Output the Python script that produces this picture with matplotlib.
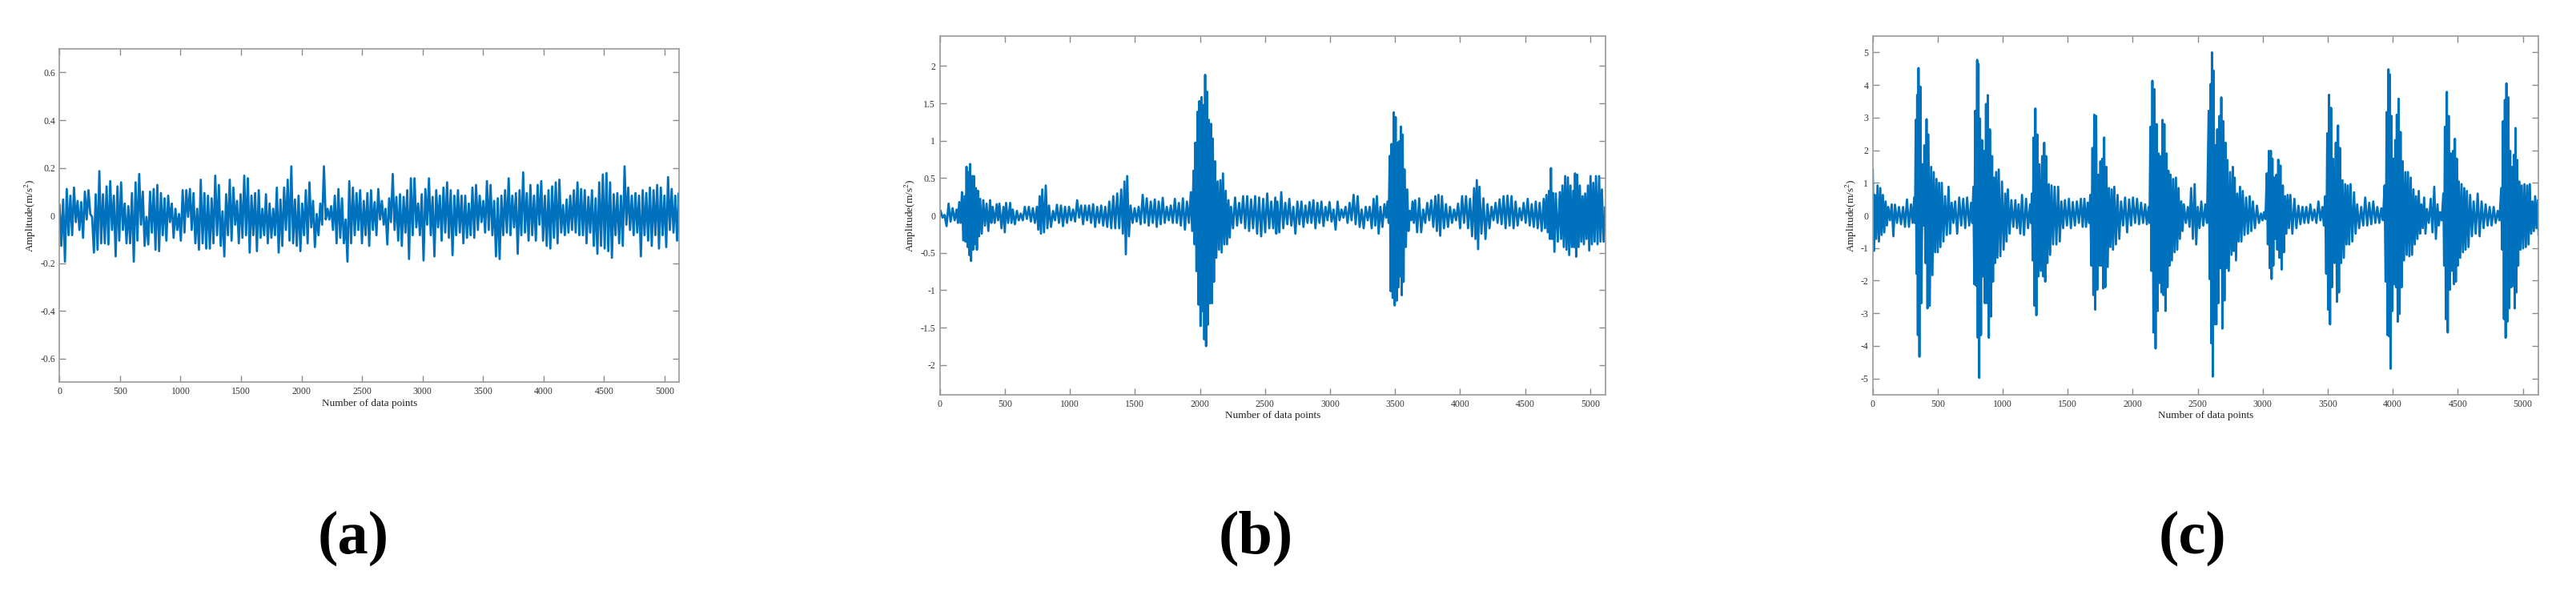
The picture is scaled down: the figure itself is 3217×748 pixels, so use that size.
import numpy as np
import matplotlib
matplotlib.use("Agg")
from matplotlib import pyplot as plt

plt.rcParams["font.family"] = ["Liberation Serif", "DejaVu Serif"]
plt.rcParams["mathtext.fontset"] = "stix"
plt.rcParams["axes.unicode_minus"] = False

# (a) upper / lower extremes, one pair per ~30 samples, read left to right
a_hi = [0.044, 0.067, 0.111, 0.083, 0.117, 0.061, 0.056, 0.1, 0.106, -0.006,
        0.089, 0.186, 0.089, 0.122, 0.144, 0.083, 0.122, 0.139, 0.05, 0.039,
        0.094, 0.139, 0.174, 0.1, -0.006, 0.1, 0.111, 0.128, 0.094, 0.072,
        0.083, 0.05, 0.028, 0.006, 0.106, 0.106, 0.111, 0.094, 0.028, 0.15,
        0.094, 0.083, 0.072, 0.167, 0.128, 0.017, 0.089, 0.15, 0.117, 0.061,
        0.089, 0.167, 0.156, 0.083, 0.094, 0.106, 0.028, 0.089, 0.05, 0.028,
        0.117, 0.067, 0.117, 0.15, 0.206, 0.067, 0.083, 0.05, 0.106, 0.139,
        0.061, 0.006, 0.05, 0.206, 0.028, 0.039, 0.083, 0.111, 0.072, -0.017,
        0.144, 0.117, 0.094, 0.106, 0.061,
        0.094, 0.106, 0.056, 0.111, 0.061, 0.028, 0.072, 0.174, 0.078, 0.089,
        0.078, 0.106, 0.156, 0.156, 0.05, 0.089, 0.111, 0.156, 0.078, 0.106,
        0.083, 0.117, 0.139, 0.106, 0.083, 0.106, 0.083, 0.083, 0.05, 0.117,
        0.128, 0.083, 0.061, 0.144, 0.128, 0.061, 0.072, 0.083, 0.106, 0.156,
        0.083, 0.094, 0.106, 0.181, 0.094, 0.128, 0.083, 0.128, 0.144, 0.083,
        0.106, 0.122, 0.139, 0.15, 0.044, 0.067, 0.083, 0.106, 0.139, 0.111,
        0.106, 0.078, 0.106, 0.072, 0.139, 0.172, 0.178, 0.139, 0.089, 0.094,
        0.083, 0.206, 0.117, 0.083, 0.094, 0.083, 0.106, 0.094, 0.117, 0.106,
        0.128, 0.117, 0.083, 0.161, 0.111, 0.083, 0.094]
a_lo = [-0.128, -0.194, -0.083, -0.083, -0.028, -0.061, -0.094, -0.017, 0.006, -0.156,
        -0.144, -0.117, -0.117, -0.122, -0.061, -0.172, -0.106, -0.061, -0.117, -0.117,
        -0.194, -0.106, -0.039, -0.128, -0.122, -0.072, -0.144, -0.15, -0.083, -0.106,
        -0.028, -0.094, -0.061, -0.106, -0.072, -0.006, -0.061, -0.117, -0.144, -0.117,
        -0.139, -0.139, -0.117, -0.083, -0.128, -0.172, -0.083, -0.106, -0.039, -0.117,
        -0.094, -0.083, -0.156, -0.083, -0.15, -0.094, -0.083, -0.117, -0.094, -0.083,
        -0.156, -0.128, -0.061, -0.106, -0.117, -0.128, -0.15, -0.083, -0.117, -0.05,
        -0.133, -0.083, -0.039, -0.017, -0.017, -0.061, -0.117, -0.094, -0.117, -0.194,
        -0.117, -0.083, -0.061, -0.117, -0.083,
        -0.128, -0.061, -0.083, -0.017, -0.039, -0.122, -0.028, -0.061, -0.106, -0.128,
        -0.072, -0.183, -0.083, -0.05, -0.083, -0.189, -0.039, -0.083, -0.172, -0.05,
        -0.106, -0.072, -0.094, -0.167, -0.083, -0.072, -0.117, -0.094, -0.083, -0.094,
        -0.061, -0.028, -0.072, -0.061, -0.083, -0.172, -0.183, -0.083, -0.072, -0.083,
        -0.05, -0.161, -0.083, -0.072, -0.106, -0.083, -0.106, -0.039, -0.106, -0.128,
        -0.139, -0.094, -0.117, -0.072, -0.083, -0.072, -0.061, -0.072, -0.083, -0.083,
        -0.117, -0.072, -0.128, -0.161, -0.128, -0.139, -0.15, -0.178, -0.083, -0.117,
        -0.128, -0.039, -0.061, -0.083, -0.072, -0.172, -0.083, -0.106, -0.128, -0.083,
        -0.139, -0.083, -0.133, -0.061, -0.072, -0.106, -0.072]

# (b) sample index of each extreme pair, upper, lower
b_idx = [6, 37, 68, 99, 130, 150, 171, 191, 206, 222, 233, 249, 263, 278, 294, 311, 335,
         360, 387, 407, 438, 459, 490, 510, 541, 562, 593, 623, 654, 685, 716, 747, 768,
         788, 815, 840, 871, 901, 932, 963, 994, 1025, 1056, 1087, 1117, 1148, 1179, 1210,
         1241, 1272, 1303, 1334, 1364, 1395, 1420, 1441, 1467, 1498, 1529, 1560, 1591,
         1622, 1653, 1683, 1714, 1745, 1776, 1807, 1838, 1869, 1900, 1930, 1951, 1965,
         1982, 1996, 2013, 2027, 2040, 2054, 2068, 2085, 2099, 2116, 2136, 2157, 2177,
         2198, 2219, 2239, 2270, 2301, 2332, 2363, 2393, 2424, 2455, 2486, 2517, 2548,
         2579, 2595, 2625, 2656, 2687, 2718, 2749, 2780, 2811, 2842, 2872, 2903, 2934,
         2965, 2996, 3027, 3058, 3088, 3119, 3150, 3181, 3212, 3243, 3274, 3305, 3335,
         3360, 3387, 3418, 3442, 3459, 3473, 3490, 3504, 3521, 3531, 3545, 3558, 3572,
         3593, 3613, 3634, 3654, 3685, 3716, 3747, 3778, 3809, 3833, 3860, 3891, 3922,
         3953, 3984, 4015, 4045, 4076, 4107, 4128, 4148, 4179, 4210, 4241, 4272, 4303,
         4334, 4364, 4395, 4426, 4457, 4488, 4519, 4550, 4581, 4611, 4642, 4663, 4683,
         4698, 4714, 4735, 4766, 4786, 4807, 4828, 4848, 4869, 4883, 4900, 4920, 4941,
         4961, 4982, 5002, 5023, 5044, 5068, 5089, 5116]
b_hi = [0.061, 0.007, 0.158, 0.097, 0.079, 0.179, 0.312, 0.258, 0.652, 0.581, 0.688,
        0.527, 0.527, 0.366, 0.33, 0.222, 0.204, 0.158, 0.204, 0.115, 0.151, 0.158,
        0.115, 0.168, 0.168, 0.079, 0.061, 0.025, 0.115, 0.115, 0.097, 0.115, 0.258,
        0.348, 0.401, 0.133, 0.061, 0.143, 0.133, 0.115, 0.115, 0.079, 0.204, 0.133,
        0.133, 0.133, 0.151, 0.115, 0.133, 0.115, 0.186, 0.258, 0.294, 0.348, 0.455,
        0.527, 0.133, 0.097, 0.115, 0.276, 0.229, 0.186, 0.215, 0.186, 0.237, 0.115,
        0.133, 0.222, 0.168, 0.229, 0.186, 0.312, 0.599, 0.975, 1.387, 1.53, 1.584,
        1.477, 1.882, 1.656, 1.28, 1.226, 1.029, 0.724, 0.455, 0.473, 0.563, 0.33,
        0.204, 0.115, 0.24, 0.168, 0.258, 0.258, 0.215, 0.258, 0.24, 0.222, 0.294,
        0.186, 0.24, 0.186, 0.312, 0.168, 0.222, 0.115, 0.186, 0.186, 0.133, 0.179,
        0.204, 0.168, 0.186, 0.115, 0.179, 0.079, 0.186, 0.079, 0.115, 0.168, 0.276,
        0.258, 0.079, 0.115, 0.115, 0.222, 0.258, 0.115, 0.151, 0.186, 0.796, 0.957,
        1.38, 1.315, 0.975, 0.993, 1.19, 1.082, 0.616, 0.348, 0.061, 0.186, 0.204,
        0.229, 0.079, 0.168, 0.204, 0.258, 0.276, 0.258, 0.151, 0.115, 0.079, 0.158,
        0.258, 0.258, 0.222, 0.366, 0.473, 0.384, 0.229, 0.151, 0.115, 0.168, 0.215,
        0.258, 0.265, 0.258, 0.186, 0.097, 0.168, 0.222, 0.151, 0.186, 0.168, 0.222,
        0.276, 0.33, 0.634, 0.301, 0.294, 0.312, 0.401, 0.527, 0.509, 0.401, 0.33,
        0.563, 0.545, 0.401, 0.258, 0.294, 0.401, 0.527, 0.437, 0.527, 0.527, 0.348,
        0.115]
b_lo = [-0.029, -0.143, -0.082, -0.065, -0.1, -0.1, -0.333, -0.351, -0.423, -0.53,
        -0.609, -0.459, -0.387, -0.459, -0.28, -0.244, -0.136, -0.208, -0.1, -0.1,
        -0.065, -0.172, -0.226, -0.1, -0.1, -0.118, -0.065, -0.065, -0.047, -0.082,
        -0.1, -0.19, -0.244, -0.226, -0.172, -0.154, -0.065, -0.1, -0.143, -0.1,
        -0.065, -0.082, -0.029, -0.118, -0.065, -0.1, -0.154, -0.1, -0.136, -0.154,
        -0.172, -0.172, -0.172, -0.244, -0.52, -0.28, -0.1, -0.082, -0.118, -0.1,
        -0.136, -0.1, -0.154, -0.118, -0.1, -0.065, -0.1, -0.1, -0.136, -0.19, -0.1,
        -0.208, -0.387, -0.746, -1.194, -1.48, -1.283, -1.659, -1.749, -1.462, -1.176,
        -1.176, -0.889, -0.566, -0.459, -0.495, -0.387, -0.387, -0.297, -0.172, -0.136,
        -0.1, -0.172, -0.208, -0.172, -0.244, -0.28, -0.226, -0.172, -0.172, -0.244,
        -0.226, -0.172, -0.118, -0.136, -0.244, -0.118, -0.154, -0.1, -0.1, -0.172,
        -0.1, -0.143, -0.065, -0.082, -0.19, -0.065, -0.029, -0.1, -0.065, -0.118,
        -0.154, -0.172, -0.065, -0.172, -0.136, -0.244, -0.154, -0.029, -0.1, -1.014,
        -1.104, -1.204, -1.14, -0.961, -0.817, -1.068, -0.889, -0.423, -0.208, -0.065,
        -0.1, -0.226, -0.226, -0.1, -0.065, -0.154, -0.208, -0.272, -0.172, -0.154,
        -0.1, -0.065, -0.172, -0.1, -0.172, -0.28, -0.315, -0.452, -0.244, -0.315,
        -0.172, -0.065, -0.1, -0.118, -0.172, -0.136, -0.172, -0.136, -0.065, -0.1,
        -0.136, -0.154, -0.172, -0.208, -0.172, -0.226, -0.315, -0.315, -0.487, -0.351,
        -0.315, -0.423, -0.459, -0.53, -0.423, -0.423, -0.552, -0.423, -0.351, -0.387,
        -0.315, -0.47, -0.387, -0.351, -0.387, -0.351, -0.351, -0.226]

# (c) sample index of each extreme pair, upper, lower
c_idx = [0, 16, 37, 58, 78, 99, 119, 146, 171, 202, 233, 263, 294, 319, 331, 342, 352,
         366, 383, 397, 414, 428, 449, 469, 490, 510, 531, 556, 583, 607, 634, 665, 696,
         726, 757, 774, 788, 803, 813, 825, 840, 854, 871, 885, 901, 918, 932, 949, 969,
         994, 1019, 1039, 1066, 1097, 1122, 1148, 1179, 1210, 1224, 1237, 1251, 1266,
         1282, 1303, 1319, 1334, 1354, 1375, 1399, 1426, 1451, 1478, 1509, 1539, 1570,
         1601, 1628, 1653, 1673, 1690, 1704, 1718, 1735, 1751, 1766, 1780, 1797, 1817,
         1838, 1858, 1883, 1910, 1941, 1972, 2002, 2033, 2064, 2095, 2122, 2136, 2151,
         2167, 2184, 2198, 2212, 2229, 2243, 2260, 2274, 2291, 2311, 2332, 2352, 2373,
         2393, 2424, 2449, 2476, 2500, 2527, 2558, 2584, 2599, 2609, 2622, 2636, 2650,
         2667, 2681, 2697, 2714, 2728, 2749, 2770, 2784, 2804, 2825, 2846, 2872, 2899,
         2924, 2955, 2986, 3010, 3031, 3047, 3062, 3074, 3088, 3105, 3119, 3136, 3154,
         3171, 3191, 3212, 3243, 3274, 3305, 3335, 3366, 3397, 3428, 3459, 3480, 3496,
         3510, 3525, 3541, 3562, 3579, 3593, 3613, 3634, 3654, 3675, 3702, 3726, 3757,
         3788, 3819, 3850, 3881, 3912, 3937, 3953, 3967, 3978, 3990, 4004, 4019, 4031,
         4045, 4060, 4076, 4097, 4117, 4138, 4159, 4179, 4200, 4220, 4241, 4262, 4292,
         4319, 4344, 4364, 4389, 4401, 4416, 4430, 4447, 4463, 4478, 4492, 4508, 4529,
         4550, 4570, 4595, 4622, 4653, 4683, 4714, 4745, 4776, 4807, 4834, 4848, 4862,
         4874, 4889, 4903, 4920, 4932, 4944, 4957, 4972, 4992, 5013, 5034, 5054, 5075,
         5095, 5116]
c_hi = [1.41, 0.63, 0.92, 0.84, 0.63, 0.43, 0.26, 0.34, 0.33, 0.26, 0.26, 0.49, 0.34,
        0.55, 2.93, 3.70, 4.52, 3.95, 1.57, 2.15, 2.95, 2.48, 1.49, 1.33, 1.12, 1.0,
        1.0, 0.59, 0.88, 0.39, 0.43, 0.55, 0.51, 0.55, 0.39, 0.88, 3.21, 4.77, 4.65,
        2.97, 2.31, 1.98, 3.42, 3.69, 2.64, 1.82, 1.16, 1.33, 1.41, 1.04, 0.67, 0.80,
        0.47, 0.47, 0.34, 0.63, 0.51, 0.34, 0.67, 2.39, 3.28, 2.48, 1.57, 1.82, 2.23,
        1.82, 0.96, 0.92, 0.88, 0.88, 0.43, 0.47, 0.51, 0.41, 0.43, 0.51, 0.51, 0.39,
        0.63, 2.07, 3.09, 3.05, 1.25, 1.66, 1.74, 2.39, 1.49, 0.84, 0.80, 0.88, 0.63,
        0.43, 0.55, 0.49, 0.55, 0.51, 0.39, 0.34, 0.26, 2.72, 4.13, 3.87, 2.80, 1.90,
        1.82, 2.93, 2.80, 1.90, 1.37, 1.25, 1.12, 1.16, 0.84, 0.43, 0.34, 0.26, 0.84,
        0.96, 0.26, 0.43, 0.34, 3.21, 4.03, 5.00, 4.44, 2.15, 2.64, 3.05, 3.62, 2.89,
        2.23, 1.70, 1.33, 1.49, 1.16, 0.67, 0.88, 0.75, 0.55, 0.59, 0.43, 0.30, 0.06,
        0.10, 1.29, 1.98, 1.98, 1.74, 1.16, 1.25, 1.71, 1.53, 0.92, 0.59, 0.63, 0.63,
        0.51, 0.30, 0.26, 0.26, 0.34, 0.18, 0.43, 0.26, 0.59, 2.52, 3.70, 3.30, 1.74,
        2.23, 2.76, 2.07, 1.08, 0.96, 0.92, 0.96, 0.71, 0.34, 0.26, 0.55, 0.39, 0.43,
        0.26, 0.22, 0.92, 3.17, 4.48, 4.32, 3.05, 1.74, 2.31, 3.09, 3.58, 2.56, 1.66,
        1.33, 1.33, 1.16, 0.80, 0.59, 0.75, 0.34, 0.55, 0.20, 0.51, 0.88, 0.34, 0.10,
        0.67, 2.72, 3.79, 3.05, 1.90, 1.98, 2.35, 1.74, 1.04, 0.96, 0.84, 0.75, 0.63,
        0.43, 0.67, 0.43, 0.34, 0.26, 0.26, 0.14, 0.84, 2.89, 3.54, 4.05, 3.62, 1.98,
        1.49, 1.86, 2.68, 1.70, 1.04, 0.92, 0.96, 0.92, 0.96, 0.43, 0.59, 0.47]
c_lo = [-1.09, -0.72, -0.80, -0.60, -0.52, -0.31, -0.15, -0.64, -0.23, -0.27, -0.35,
        -0.35, -0.23, -0.23, -1.79, -3.67, -4.33, -2.69, -0.31, -1.46, -2.85, -2.77,
        -1.83, -1.13, -1.13, -0.97, -0.80, -0.60, -0.56, -0.23, -0.56, -0.31, -0.39,
        -0.31, -0.23, -2.11, -2.16, -3.75, -4.98, -3.67, -1.87, -2.69, -2.69, -3.75,
        -3.10, -2.03, -1.46, -1.30, -1.25, -1.05, -0.80, -0.56, -0.35, -0.39, -0.56,
        -0.60, -0.39, -0.23, -1.38, -2.77, -3.06, -1.87, -1.70, -1.87, -2.03, -1.46,
        -1.21, -0.89, -0.89, -0.80, -0.39, -0.31, -0.39, -0.31, -0.23, -0.35, -0.35,
        -0.23, -1.54, -2.44, -2.89, -2.28, -1.54, -1.54, -2.24, -2.20, -1.58, -0.97,
        -1.05, -0.89, -0.72, -0.31, -0.52, -0.31, -0.23, -0.27, -0.23, -0.27, -0.23,
        -1.70, -3.59, -4.08, -2.93, -2.07, -2.36, -2.44, -2.93, -2.20, -1.54, -1.38,
        -1.13, -1.05, -0.72, -0.48, -0.23, -0.35, -0.72, -0.89, -0.39, -0.31, -0.23,
        -1.95, -3.92, -4.94, -3.34, -3.34, -2.69, -1.62, -3.47, -2.61, -1.62, -1.70,
        -1.21, -1.09, -1.38, -0.80, -0.80, -0.60, -0.56, -0.48, -0.39, -0.23, -0.15,
        -0.11, -0.89, -1.62, -1.95, -1.54, -0.72, -1.05, -1.30, -1.66, -1.13, -0.56,
        -0.39, -0.56, -0.39, -0.27, -0.23, -0.23, -0.15, -0.23, -0.15, -0.31, -1.79,
        -2.89, -3.34, -2.20, -1.46, -2.65, -2.36, -1.46, -1.30, -0.89, -0.89, -0.80,
        -0.56, -0.39, -0.31, -0.31, -0.27, -0.23, -0.23, -0.15, -2.03, -3.67, -3.71,
        -4.70, -2.93, -2.11, -2.20, -3.26, -3.02, -2.20, -1.38, -1.21, -1.25, -1.21,
        -0.89, -0.72, -0.56, -0.39, -0.56, -0.23, -0.52, -0.72, -0.31, -0.15, -1.54,
        -3.18, -3.59, -2.28, -1.70, -2.11, -2.03, -1.54, -1.30, -1.13, -1.05, -0.97,
        -0.64, -0.56, -0.64, -0.39, -0.31, -0.31, -0.23, -0.15, -1.05, -3.18, -3.75,
        -3.26, -2.85, -2.20, -2.16, -2.85, -2.36, -1.54, -1.05, -1.01, -0.97, -0.89,
        -0.56, -0.48, -0.39, -0.60]

x_ticks = [0, 500, 1000, 1500, 2000, 2500, 3000, 3500, 4000, 4500, 5000]
a_yticks = [-0.6, -0.4, -0.2, 0, 0.2, 0.4, 0.6]
b_yticks = [-2, -1.5, -1, -0.5, 0, 0.5, 1, 1.5, 2]
c_yticks = [-5, -4, -3, -2, -1, 0, 1, 2, 3, 4, 5]
panel_names = ["(a)", "(b)", "(c)"]


def zigzag(idx, hi, lo):
    # each upper extreme is followed by the lower one halfway to the next index
    idx = np.asarray(idx, dtype=float)
    nxt = np.append(idx[1:], idx[-1] + 10)
    mid = (idx + nxt) / 2
    x = np.column_stack([idx, mid]).ravel()
    y = np.column_stack([hi, lo]).ravel()
    return x, y


fig = plt.figure(figsize=(32.17, 7.48), dpi=100)

a_idx = np.linspace(0, 5119, len(a_hi))
panels = [
    ([0.0231, 0.3619, 0.2405, 0.5569], zigzag(a_idx, a_hi, a_lo), 0.7, a_yticks),
    ([0.3648, 0.3409, 0.2586, 0.5989], zigzag(b_idx, b_hi, b_lo), 2.4, b_yticks),
    ([0.7270, 0.3409, 0.2584, 0.5989], zigzag(c_idx, c_hi, c_lo), 5.5, c_yticks),
]
label_x = [441 / 3217, 1568 / 3217, 2738 / 3217]

for (rect, (xs, ys), ylim, yticks), name, lx in zip(panels, panel_names, label_x):
    ax = fig.add_axes(rect)
    ax.plot(xs, ys, color="#0072BD", linewidth=2.0)
    ax.set_xlim(0, 5120)
    ax.set_ylim(-ylim, ylim)
    ax.set_xticks(x_ticks)
    ax.set_yticks(yticks)
    ax.set_yticklabels(["%g" % v for v in yticks])
    ax.tick_params(direction="in", length=6, width=1, color="#8a8a8a",
                   labelcolor="#333333", labelsize=8.5, top=True, right=True, pad=4)
    for sp in ax.spines.values():
        sp.set_color("#9a9a9a")
        sp.set_linewidth(1.2)
    ax.set_xlabel("Number of data points", fontsize=9.5, color="#222222", labelpad=2)
    ax.set_ylabel("Amplitude(m/s$^2$)", fontsize=9.5, color="#222222", labelpad=2)
    fig.text(lx, 0.0766, name, ha="center", va="baseline", fontsize=55,
             fontweight="bold")

fig.savefig("out.png", dpi=100)
